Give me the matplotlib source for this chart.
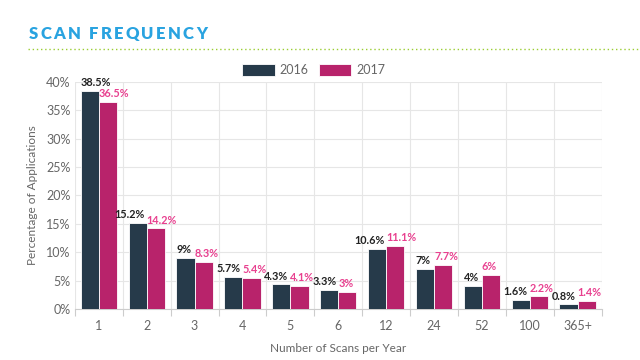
import matplotlib.pyplot as plt
from matplotlib.ticker import FixedLocator, FuncFormatter
from matplotlib.lines import Line2D
import matplotlib.transforms as mtransforms
import numpy as np

plt.rcParams['font.family'] = ['Lato', 'DejaVu Sans']

# data
categories = ['1', '2', '3', '4', '5', '6', '12', '24', '52', '100', '365+']
vals_2016 = [38.5, 15.2, 9, 5.7, 4.3, 3.3, 10.6, 7, 4, 1.6, 0.8]
vals_2017 = [36.5, 14.2, 8.3, 5.4, 4.1, 3, 11.1, 7.7, 6, 2.2, 1.4]
labels_2016 = ['38.5%', '15.2%', '9%', '5.7%', '4.3%', '3.3%', '10.6%', '7%', '4%', '1.6%', '0.8%']
labels_2017 = ['36.5%', '14.2%', '8.3%', '5.4%', '4.1%', '3%', '11.1%', '7.7%', '6%', '2.2%', '1.4%']

c16 = '#263a4a'
c17 = '#b8236b'
lab17 = '#e8408f'
grid_c = '#e6e6e6'
text_c = '#666666'

fig = plt.figure(figsize=(6.4, 3.6), dpi=100)
ax = fig.add_axes([0.117, 0.142, 0.823, 0.630])

x = np.arange(len(categories))
w = 0.38
b1 = ax.bar(x - w / 2, vals_2016, w, color=c16, edgecolor='white', linewidth=0.6, label='2016', zorder=3)
b2 = ax.bar(x + w / 2, vals_2017, w, color=c17, edgecolor='white', linewidth=0.6, label='2017', zorder=3)

ax.set_xlim(-0.5, len(categories) - 0.5)
ax.set_ylim(0, 40)
ax.set_xticks(x)
ax.set_xticklabels(categories)
ax.xaxis.set_minor_locator(FixedLocator(np.arange(-0.5, len(categories), 1)))
ax.set_yticks(np.arange(0, 41, 5))
ax.yaxis.set_major_formatter(FuncFormatter(lambda v, p: f'{int(v)}%'))

# value labels: left-aligned on the bar; 2016 label moves left if it hits the 2017 one
fig.canvas.draw()
r = fig.canvas.get_renderer()
for i in range(len(categories)):
    t17 = ax.text(x[i], vals_2017[i] + 0.5, labels_2017[i], ha='left', va='bottom',
                  fontsize=7.8, color=lab17, fontweight='bold', zorder=4)
    t16 = ax.text(x[i] - w, vals_2016[i] + 0.5, labels_2016[i], ha='left', va='bottom',
                  fontsize=7.8, color='#222222', fontweight='bold', zorder=4)
    e16 = t16.get_window_extent(r)
    e17 = t17.get_window_extent(r)
    if e16.overlaps(e17):
        t16.set_ha('right')
        t16.set_x(x[i])
        t16.set_transform(ax.transData + mtransforms.ScaledTranslation(-2 / 100, 0, fig.dpi_scale_trans))

ax.grid(True, which='minor', axis='x', color=grid_c, linewidth=0.8, zorder=0)
ax.grid(True, which='major', axis='y', color=grid_c, linewidth=0.8, zorder=0)
ax.tick_params(axis='x', which='major', length=0, pad=8, labelsize=9, colors=text_c)
ax.tick_params(axis='x', which='minor', length=5, color='#cccccc', width=0.8)
ax.tick_params(axis='y', length=0, labelsize=9, colors=text_c, pad=3)
for s in ['top', 'right', 'left']:
    ax.spines[s].set_visible(False)
ax.spines['bottom'].set_color('#cccccc')

ax.set_xlabel('Number of Scans per Year', fontsize=8.5, color=text_c, labelpad=8)
ax.set_ylabel('Percentage of Applications', fontsize=8.5, color=text_c, labelpad=6)

leg = fig.legend(handles=[b1, b2], labels=['2016', '2017'], loc='center', bbox_to_anchor=(0.49, 0.805),
                 ncol=2, frameon=False, fontsize=9, handlelength=2.6, handleheight=1.0,
                 columnspacing=0.8, handletextpad=0.4)
for t in leg.get_texts():
    t.set_color(text_c)

# title with letter spacing, drawn letter by letter
title = 'SCAN FREQUENCY'
tx = 29
for ch in title:
    t = fig.text(tx / 640, 0.905, ch, fontsize=12, fontweight='heavy', color='#29a3e0',
                 va='center', ha='left')
    if ch == ' ':
        tx += 6.5
    else:
        tx += t.get_window_extent(r).width + 2.2
fig.add_artist(Line2D([0.044, 1.0], [0.864, 0.864], transform=fig.transFigure, color='#9acd32',
                      linestyle=(0, (1, 2)), linewidth=1.0))

fig.savefig('out.png', dpi=100, facecolor='white')
